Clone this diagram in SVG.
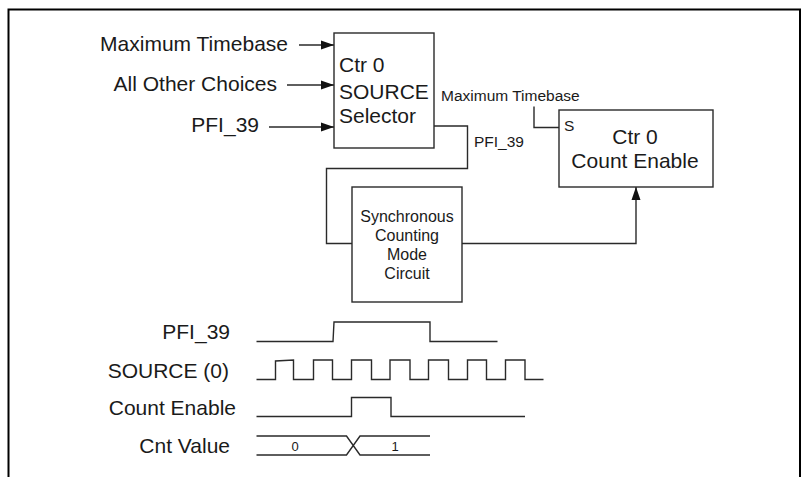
<svg xmlns="http://www.w3.org/2000/svg" width="802" height="477" viewBox="0 0 802 477">
<style>
text{font-family:"Liberation Sans",Arial,sans-serif;fill:#1a1a1a}
.big{font-size:21px}
.sm{font-size:15.5px}
.sy{font-size:16px;text-anchor:middle}
.mid{text-anchor:middle}
.end{text-anchor:end}
.ln{fill:none;stroke:#2a2a2a;stroke-width:1.4}
.box{fill:#fff;stroke:#2a2a2a;stroke-width:1.4}
.wv{fill:none;stroke:#2a2a2a;stroke-width:1.4}
</style>
<defs>
<marker id="ah" markerWidth="13" markerHeight="10" refX="13" refY="5" orient="auto" markerUnits="userSpaceOnUse">
<path d="M0,0.5 L13,5 L0,9.5 z" fill="#111"/>
</marker>
</defs>
<rect width="802" height="477" fill="#fff"/>
<path d="M8.5,477 V9.5 H800 V477" fill="none" stroke="#000" stroke-width="2"/>

<g id="connectors">
<line class="ln" x1="299" y1="45" x2="334" y2="45" marker-end="url(#ah)"/>
<line class="ln" x1="287" y1="85" x2="334" y2="85" marker-end="url(#ah)"/>
<line class="ln" x1="269" y1="127" x2="334" y2="127" marker-end="url(#ah)"/>
<path class="ln" d="M534,106.5 V127.5 H559"/>
<path class="ln" d="M434,126 H467.5 V168.5 H326.5 V243.5 H352"/>
<path class="ln" d="M462,243.5 H636 V187" marker-end="url(#ah)"/>
</g>

<g id="input-labels">
<text class="big end" x="288" y="51">Maximum Timebase</text>
<text class="big end" x="277" y="91">All Other Choices</text>
<text class="big end" x="259" y="132">PFI_39</text>
</g>

<g id="source-selector">
<rect class="box" x="334" y="33" width="100" height="115"/>
<text class="big" x="339" y="72">Ctr 0</text>
<text class="big" x="339" y="99">SOURCE</text>
<text class="big" x="339" y="123">Selector</text>
</g>

<g id="connector-labels">
<text class="sm" x="441" y="101">Maximum Timebase</text>
<text class="sm" x="474" y="147">PFI_39</text>
</g>

<g id="count-enable">
<rect class="box" x="559" y="110" width="154" height="77"/>
<text class="sm" x="564" y="131">S</text>
<text class="big mid" x="635" y="144">Ctr 0</text>
<text class="big mid" x="635" y="168">Count Enable</text>
</g>

<g id="sync-circuit">
<rect class="box" x="352" y="187" width="110" height="115"/>
<text class="sy" x="407" y="222">Synchronous</text>
<text class="sy" x="407" y="241">Counting</text>
<text class="sy" x="407" y="260">Mode</text>
<text class="sy" x="407" y="278.5">Circuit</text>
</g>

<g id="timing">
<text class="big end" x="230" y="339">PFI_39</text>
<text class="big end" x="229" y="378">SOURCE (0)</text>
<text class="big end" x="236" y="415">Count Enable</text>
<text class="big end" x="230" y="453">Cnt Value</text>
<path class="wv" d="M256.5,341.5 H333 L334,322 H430 V341.5 H497.5"/>
<path class="wv" d="M256.5,379.5 H275.5 V361 L293.5,360 V379.5 H313.5 V360 H332.5 V379.5 H351.5 V360 H371.5 V379.5 H390 V360 H410 V379.5 H428.5 V360 H448.5 V379.5 H467.5 V360 H486.5 V379.5 H505.5 V360 H525 V379.5 H543.5"/>
<path class="wv" d="M256.5,416.5 H351.5 V397.5 H391 V416.5 H525"/>
<path class="wv" d="M256.5,436 H346.5 L360,455 H430 M256.5,455 H346.5 L360,436 H430"/>
<text class="mid" x="295" y="451" style="font-size:13px">0</text>
<text class="mid" x="395" y="451" style="font-size:13px">1</text>
</g>
</svg>
